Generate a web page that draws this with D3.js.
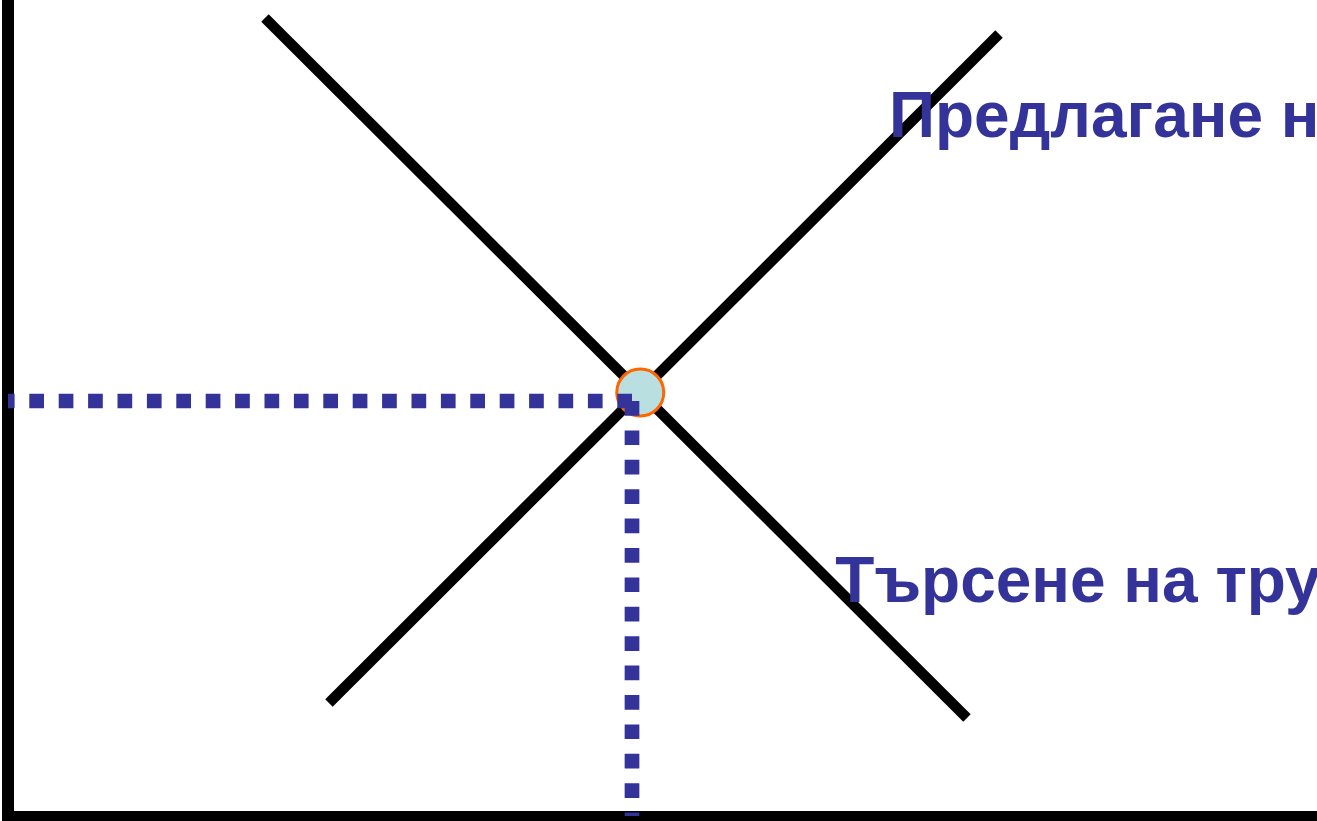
<!DOCTYPE html>
<html>
<head>
<meta charset="utf-8">
<script src="https://cdn.jsdelivr.net/npm/d3@7"></script>
<style>
  html, body { margin: 0; padding: 0; background: #fff; overflow: hidden; }
  svg { display: block; }
</style>
</head>
<body>
<div id="chart"></div>
<script>
// data (abstract units, 0-100 on both axes)
var demandLine = [[19.63, 97.79], [73.26, 12.01]];
var supplyLine = [[24.52, 13.85], [75.71, 95.83]];
var equilibrium = [48.3, 51.9];
var guidePoint = [47.67, 50.86];
var labels = ["Предлагане н", "Търсене на тру"];
var labelPos = [[67.3, 83.2], [63.2, 26.2]];

var width = 1317, height = 821;

var x = d3.scaleLinear().domain([0, 100]).range([8, 1317]);
var y = d3.scaleLinear().domain([0, 100]).range([816, 0]);

var svg = d3.select("#chart").append("svg")
  .attr("width", width)
  .attr("height", height);

var line = d3.line()
  .x(function(d) { return x(d[0]); })
  .y(function(d) { return y(d[1]); });

// axes
svg.append("line")
  .attr("x1", x(0)).attr("y1", 0)
  .attr("x2", x(0)).attr("y2", height)
  .attr("stroke", "#000")
  .attr("stroke-width", 12);

svg.append("line")
  .attr("x1", x(0)).attr("y1", y(0))
  .attr("x2", width).attr("y2", y(0))
  .attr("stroke", "#000")
  .attr("stroke-width", 10);

// demand + supply
svg.selectAll(".curve")
  .data([demandLine, supplyLine])
  .enter()
  .append("path")
  .attr("class", "curve")
  .attr("d", line)
  .attr("fill", "none")
  .attr("stroke", "#000")
  .attr("stroke-width", 10.5);

// equilibrium marker
svg.append("circle")
  .attr("cx", x(equilibrium[0]))
  .attr("cy", y(equilibrium[1]))
  .attr("r", 23.5)
  .attr("fill", "#b9dfe0")
  .attr("stroke", "#ff6600")
  .attr("stroke-width", 3);

// dotted guides (drawn outward from the guide point)
svg.append("line")
  .attr("x1", x(guidePoint[0])).attr("y1", y(guidePoint[1]))
  .attr("x2", x(0)).attr("y2", y(guidePoint[1]))
  .attr("stroke", "#333399")
  .attr("stroke-width", 14.7)
  .attr("stroke-dasharray", "14.7,14.7");

svg.append("line")
  .attr("x1", x(guidePoint[0])).attr("y1", y(guidePoint[1]))
  .attr("x2", x(guidePoint[0])).attr("y2", y(0))
  .attr("stroke", "#333399")
  .attr("stroke-width", 14.7)
  .attr("stroke-dasharray", "14.7,14.7");

// labels
svg.selectAll(".lbl")
  .data(labels)
  .enter()
  .append("text")
  .attr("class", "lbl")
  .attr("x", function(d, i) { return x(labelPos[i][0]); })
  .attr("y", function(d, i) { return y(labelPos[i][1]); })
  .attr("fill", "#333399")
  .style("font-family", "'Liberation Sans', Arial, sans-serif")
  .style("font-weight", "bold")
  .style("font-size", "64px")
  .text(function(d) { return d; });
</script>
</body>
</html>
